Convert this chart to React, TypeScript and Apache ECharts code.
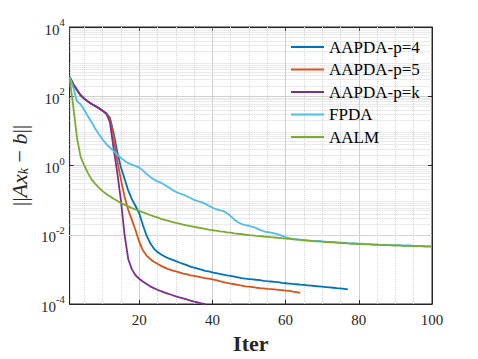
import React, { useEffect, useRef } from 'react';
import * as echarts from 'echarts';

const seriesNames = ['AAPDA-p=4', 'AAPDA-p=5', 'AAPDA-p=k', 'FPDA', 'AALM'];
const seriesColors = ['#0072BD', '#D95319', '#7E2F8E', '#4DBEEE', '#77AC30'];

const xTicks = [20, 40, 60, 80, 100];
const xMinorTicks = [5, 10, 15, 25, 30, 35, 45, 50, 55, 65, 70, 75, 85, 90, 95];
const yDecades = [-4, -3, -2, -1, 0, 1, 2, 3];
const yMantissas = [2, 3, 4, 5, 6, 7, 8, 9];

// values for iterations 1, 2, 3, ...
const aapdaP4 = [
  355, 224, 151, 107, 85, 71, 60, 52.5, 44.7, 38, 31.6,
  24, 8.9, 2.51, 0.891, 0.417, 0.191, 0.107, 0.0676, 0.0417,
  0.0191, 0.00955, 0.00575, 0.00398, 0.00316, 0.00269, 0.00234, 0.00209, 0.00191, 0.00174,
  0.00158, 0.00145, 0.00132, 0.0012, 0.00112, 0.00105, 9.77e-4, 9.12e-4, 8.71e-4, 8.13e-4,
  7.76e-4, 7.41e-4, 7.08e-4, 6.76e-4, 6.46e-4, 6.17e-4, 5.89e-4, 5.62e-4, 5.37e-4, 5.25e-4,
  5.13e-4, 5.01e-4, 4.9e-4, 4.68e-4, 4.57e-4, 4.47e-4, 4.37e-4, 4.27e-4, 4.07e-4, 3.98e-4,
  3.89e-4, 3.8e-4, 3.72e-4, 3.63e-4, 3.55e-4, 3.47e-4, 3.39e-4, 3.31e-4, 3.24e-4, 3.16e-4,
  3.09e-4, 3.02e-4, 2.95e-4, 2.88e-4, 2.82e-4, 2.75e-4, 2.63e-4,
];
const aapdaP5 = [
  355, 224, 151, 107, 85, 71, 60, 52.5, 44.7, 38, 31.6,
  22.4, 7.08, 1.41, 0.398, 0.126, 0.0525, 0.0269, 0.0135, 0.0063,
  0.00355, 0.00251, 0.002, 0.00166, 0.00145, 0.00126, 0.00112, 0.00102, 9.33e-4, 8.71e-4,
  8.13e-4, 7.59e-4, 7.24e-4, 6.76e-4, 6.46e-4, 6.17e-4, 5.89e-4, 5.62e-4, 5.37e-4, 5.13e-4,
  4.9e-4, 4.57e-4, 4.27e-4, 4.07e-4, 3.89e-4, 3.72e-4, 3.55e-4, 3.39e-4, 3.24e-4, 3.16e-4,
  3.09e-4, 2.95e-4, 2.88e-4, 2.82e-4, 2.75e-4, 2.69e-4, 2.63e-4, 2.57e-4, 2.51e-4, 2.45e-4,
  2.4e-4, 2.29e-4, 2.19e-4, 2.09e-4,
];
const aapdaPk = [
  355, 224, 151, 107, 85, 71, 60, 52.5, 44.7, 38, 31.6,
  17.8, 3.16, 0.631, 0.1, 0.01, 0.002, 1.0e-3, 6.76e-4, 5.37e-4,
  4.47e-4, 3.8e-4, 3.24e-4, 2.88e-4, 2.57e-4, 2.34e-4, 2.14e-4, 1.95e-4, 1.82e-4, 1.66e-4,
  1.55e-4, 1.45e-4, 1.35e-4, 1.26e-4, 1.17e-4, 1.12e-4, 1.05e-4, 1.0e-4,
];
const fpda = [
  355, 178, 71, 59, 40, 26.3, 17.8, 11.5, 7.94, 5.62,
  4.17, 3.31, 2.63, 2.09, 1.66, 1.38, 1.17, 1.07, 0.977, 0.871,
  0.724, 0.575, 0.468, 0.398, 0.347, 0.316, 0.275, 0.234, 0.2, 0.174,
  0.158, 0.145, 0.129, 0.115, 0.102, 0.0933, 0.0871, 0.0794, 0.0692, 0.0603,
  0.055, 0.0513, 0.0479, 0.0417, 0.0347, 0.0275, 0.0229, 0.0204, 0.0191, 0.0182,
  0.017, 0.0155, 0.0138, 0.0126, 0.012, 0.0115, 0.011, 0.0102, 0.00933, 0.00851,
  0.00794, 0.00759, 0.00741, 0.00724, 0.00708, 0.00692, 0.00676, 0.00661, 0.00661, 0.00646,
  0.00631, 0.00617, 0.00617, 0.00603, 0.00589, 0.00589, 0.00575, 0.00562, 0.00562, 0.0055,
  0.0055, 0.00537, 0.00537, 0.00525, 0.00525, 0.00513, 0.00513, 0.00513, 0.00501, 0.00501,
  0.00501, 0.0049, 0.0049, 0.0049, 0.00479, 0.00479, 0.00479, 0.00468, 0.00468, 0.00468,
];
const aalm = [
  316, 50, 6.3, 1.78, 1.0, 0.603, 0.398, 0.295, 0.229, 0.182,
  0.151, 0.129, 0.11, 0.0955, 0.0832, 0.0741, 0.0661, 0.0589, 0.0537, 0.049,
  0.0447, 0.0407, 0.0372, 0.0339, 0.0316, 0.0288, 0.0269, 0.0251, 0.0234, 0.0219,
  0.0209, 0.0195, 0.0186, 0.0178, 0.017, 0.0162, 0.0155, 0.0148, 0.0141, 0.0135,
  0.0132, 0.0126, 0.0123, 0.0117, 0.0115, 0.011, 0.0107, 0.0105, 0.01, 0.00977,
  0.00955, 0.00933, 0.00912, 0.00891, 0.00871, 0.00851, 0.00832, 0.00813, 0.00794, 0.00776,
  0.00759, 0.00741, 0.00724, 0.00708, 0.00692, 0.00676, 0.00661, 0.00646, 0.00646, 0.00631,
  0.00617, 0.00603, 0.00603, 0.00589, 0.00575, 0.00575, 0.00562, 0.0055, 0.0055, 0.00537,
  0.00537, 0.00525, 0.00525, 0.00513, 0.00513, 0.00501, 0.00501, 0.00501, 0.0049, 0.0049,
  0.0049, 0.00479, 0.00479, 0.00479, 0.00468, 0.00468, 0.00468, 0.00457, 0.00457, 0.00457,
];

const seriesValues = [aapdaP4, aapdaP5, aapdaPk, fpda, aalm];

const AXIS_COLOR = '#262626';
const FONT = 'Liberation Serif';

export default function App() {
  const ref = useRef<HTMLDivElement>(null);

  useEffect(() => {
    document.body.style.margin = '0';
    if (!ref.current) return;
    const chart = echarts.init(ref.current, null, { renderer: 'svg' });

    const yMinor: number[] = [];
    yDecades.forEach((d) => {
      yMantissas.forEach((m) => {
        yMinor.push(Number((m * Math.pow(10, d)).toPrecision(2)));
      });
    });

    const supLabel = (v: number) => {
      const e = Math.round(Math.log10(v));
      return `{b|10}{e|${e}}`;
    };

    const lineSeries = seriesNames.map((name, i) => ({
      name,
      type: 'line',
      data: seriesValues[i].map((v, k) => [k + 1, v]),
      symbol: 'none',
      showSymbol: false,
      z: 3,
      lineStyle: { color: seriesColors[i], width: 1.8 },
      itemStyle: { color: seriesColors[i] },
      clip: true,
    }));

    const gridSeries = {
      name: 'minorGrid',
      type: 'line',
      data: [],
      silent: true,
      z: 1,
      markLine: {
        silent: true,
        z: 1,
        symbol: ['none', 'none'],
        label: { show: false },
        animation: false,
        lineStyle: { color: '#d6d6d6', type: 'dotted', width: 1 },
        emphasis: { disabled: true },
        data: [
          ...yMinor.map((v) => ({ yAxis: v })),
          ...xMinorTicks.map((v) => ({ xAxis: v })),
        ],
      },
    };

    chart.setOption({
      animation: false,
      backgroundColor: '#ffffff',
      textStyle: { fontFamily: FONT },
      grid: {
        left: 65,
        right: 46,
        top: 27,
        bottom: 52,
        show: true,
        borderColor: AXIS_COLOR,
        borderWidth: 1,
        backgroundColor: 'transparent',
      },
      legend: {
        data: seriesNames.map((n) => ({ name: n, icon: 'rect' })),
        orient: 'vertical',
        left: 286,
        top: 33,
        itemWidth: 33,
        itemHeight: 2,
        itemGap: 4.5,
        textStyle: { fontFamily: FONT, fontSize: 17, lineHeight: 18, color: '#000' },
        selectedMode: false,
      },
      xAxis: [
        {
          type: 'value',
          min: 1,
          max: 100,
          name: 'Iter',
          nameLocation: 'middle',
          nameGap: 28,
          nameTextStyle: { fontFamily: FONT, fontSize: 22, fontWeight: 'bold', color: AXIS_COLOR },
          axisLine: { show: true, lineStyle: { color: AXIS_COLOR, width: 1 } },
          axisTick: { show: true, inside: true, length: 4, customValues: xTicks, lineStyle: { color: AXIS_COLOR } },
          axisLabel: { customValues: xTicks, fontFamily: FONT, fontSize: 15, color: AXIS_COLOR, margin: 8 },
          splitLine: { show: true, lineStyle: { color: '#cfcfcf', width: 1 } },
        },
        {
          type: 'value',
          position: 'top',
          min: 1,
          max: 100,
          axisLine: { show: true, lineStyle: { color: AXIS_COLOR, width: 1 } },
          axisTick: { show: true, inside: true, length: 4, customValues: xTicks, lineStyle: { color: AXIS_COLOR } },
          axisLabel: { show: false, customValues: xTicks },
          splitLine: { show: false },
        },
      ],
      yAxis: [
        {
          type: 'log',
          min: 1e-4,
          max: 1e4,
          interval: 2,
          logBase: 10,
          name: '{n|||}{i|Ax}{s|k}{n| − }{i|b}{n|||}',
          nameLocation: 'middle',
          nameGap: 38,
          nameRotate: 90,
          nameTextStyle: {
            fontFamily: FONT,
            fontSize: 22,
            color: AXIS_COLOR,
            rich: {
              n: { fontFamily: FONT, fontSize: 22, color: AXIS_COLOR, lineHeight: 26, verticalAlign: 'bottom' },
              i: { fontFamily: FONT, fontSize: 22, fontStyle: 'italic', color: AXIS_COLOR, lineHeight: 26, verticalAlign: 'bottom' },
              s: { fontFamily: FONT, fontSize: 14, fontStyle: 'italic', color: AXIS_COLOR, lineHeight: 14, verticalAlign: 'bottom' },
            },
          },
          axisLine: { show: true, lineStyle: { color: AXIS_COLOR, width: 1 } },
          axisTick: { show: true, inside: true, length: 4, lineStyle: { color: AXIS_COLOR } },
          axisLabel: {
            formatter: supLabel,
            margin: 5,
            fontFamily: FONT,
            rich: {
              b: { fontFamily: FONT, fontSize: 15, color: AXIS_COLOR, lineHeight: 20, verticalAlign: 'bottom' },
              e: { fontFamily: FONT, fontSize: 10.5, color: AXIS_COLOR, lineHeight: 10, verticalAlign: 'top' },
            },
          },
          splitLine: { show: true, lineStyle: { color: '#cfcfcf', width: 1 } },
        },
        {
          type: 'log',
          position: 'right',
          min: 1e-4,
          max: 1e4,
          interval: 2,
          logBase: 10,
          axisLine: { show: true, lineStyle: { color: AXIS_COLOR, width: 1 } },
          axisTick: { show: true, inside: true, length: 4, lineStyle: { color: AXIS_COLOR } },
          axisLabel: { show: false },
          splitLine: { show: false },
        },
      ],
      series: [gridSeries, ...lineSeries],
    });

    return () => {
      chart.dispose();
    };
  }, []);

  return <div ref={ref} style={{ width: 478, height: 359 }} />;
}
